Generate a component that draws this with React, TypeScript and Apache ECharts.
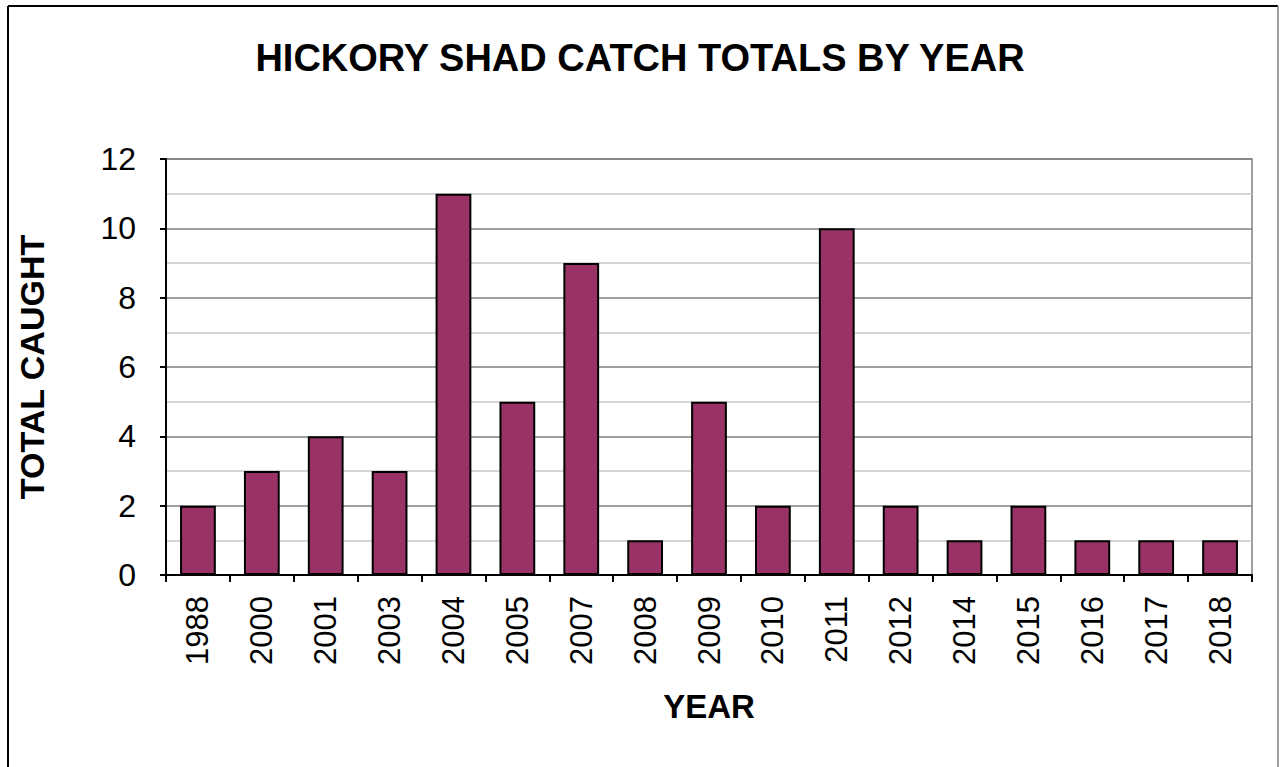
import React, { useEffect, useRef } from "react";
import * as echarts from "echarts";

const years = ["1988", "2000", "2001", "2003", "2004", "2005", "2007", "2008", "2009", "2010", "2011", "2012", "2014", "2015", "2016", "2017", "2018"];
const totals = [2, 3, 4, 3, 11, 5, 9, 1, 5, 2, 10, 2, 1, 2, 1, 1, 1];
const yTicks = [0, 2, 4, 6, 8, 10, 12];

const FONT = "'Liberation Sans', Arial, sans-serif";

export default function App() {
  const ref = useRef<HTMLDivElement>(null);
  useEffect(() => {
    if (!ref.current) return;
    const chart = echarts.init(ref.current, null, { renderer: "svg" });
    chart.setOption({
      animation: false,
      backgroundColor: "#ffffff",
      title: {
        text: "HICKORY SHAD CATCH TOTALS BY YEAR",
        left: "center",
        top: 34,
        textStyle: { fontFamily: FONT, fontSize: 38, fontWeight: "bold", color: "#000" },
      },
      graphic: [
        { type: "line", shape: { x1: 8, y1: 6, x2: 8, y2: 800 }, style: { stroke: "#000", lineWidth: 2 } },
        { type: "line", shape: { x1: 8, y1: 6, x2: 1278, y2: 6 }, style: { stroke: "#000", lineWidth: 2 } },
        { type: "line", shape: { x1: 1278, y1: 6, x2: 1278, y2: 800 }, style: { stroke: "#808080", lineWidth: 1.5 } },
      ],
      grid: {
        left: 166,
        top: 159,
        right: 28,
        bottom: 192,
        show: true,
        borderColor: "#808080",
        borderWidth: 1.5,
        containLabel: false,
      },
      xAxis: {
        type: "category",
        data: years,
        name: "YEAR",
        nameLocation: "middle",
        nameGap: 115,
        nameTextStyle: { fontFamily: FONT, fontSize: 33, fontWeight: "bold", color: "#000" },
        axisLine: { show: true, lineStyle: { color: "#000", width: 2 } },
        axisTick: { show: true, length: 7, alignWithLabel: false, lineStyle: { color: "#000", width: 2 } },
        axisLabel: { rotate: 90, margin: 21, fontFamily: FONT, fontSize: 31, color: "#000", interval: 0 },
        splitLine: { show: false },
      },
      yAxis: {
        type: "value",
        min: yTicks[0],
        max: yTicks[yTicks.length - 1],
        interval: 2,
        name: "TOTAL CAUGHT",
        nameLocation: "middle",
        nameRotate: 90,
        nameGap: 117,
        nameTextStyle: { fontFamily: FONT, fontSize: 34, fontWeight: "bold", color: "#000" },
        axisLine: { show: true, lineStyle: { color: "#000", width: 2 } },
        axisTick: { show: true, length: 6, lineStyle: { color: "#000", width: 2 } },
        axisLabel: { margin: 30, fontFamily: FONT, fontSize: 32, color: "#000" },
        splitLine: { show: true, lineStyle: { color: "#808080", width: 1.5 } },
        minorTick: { show: false, splitNumber: 2 },
        minorSplitLine: { show: true, lineStyle: { color: "#c8c8c8", width: 1.5 } },
      },
      series: [
        {
          type: "bar",
          data: totals,
          barWidth: "56%",
          itemStyle: { color: "#993366", borderColor: "#000", borderWidth: 2 },
        },
      ],
    });
    return () => chart.dispose();
  }, []);
  return <div ref={ref} style={{ position: "fixed", left: 0, top: 0, width: 1280, height: 767 }} />;
}
